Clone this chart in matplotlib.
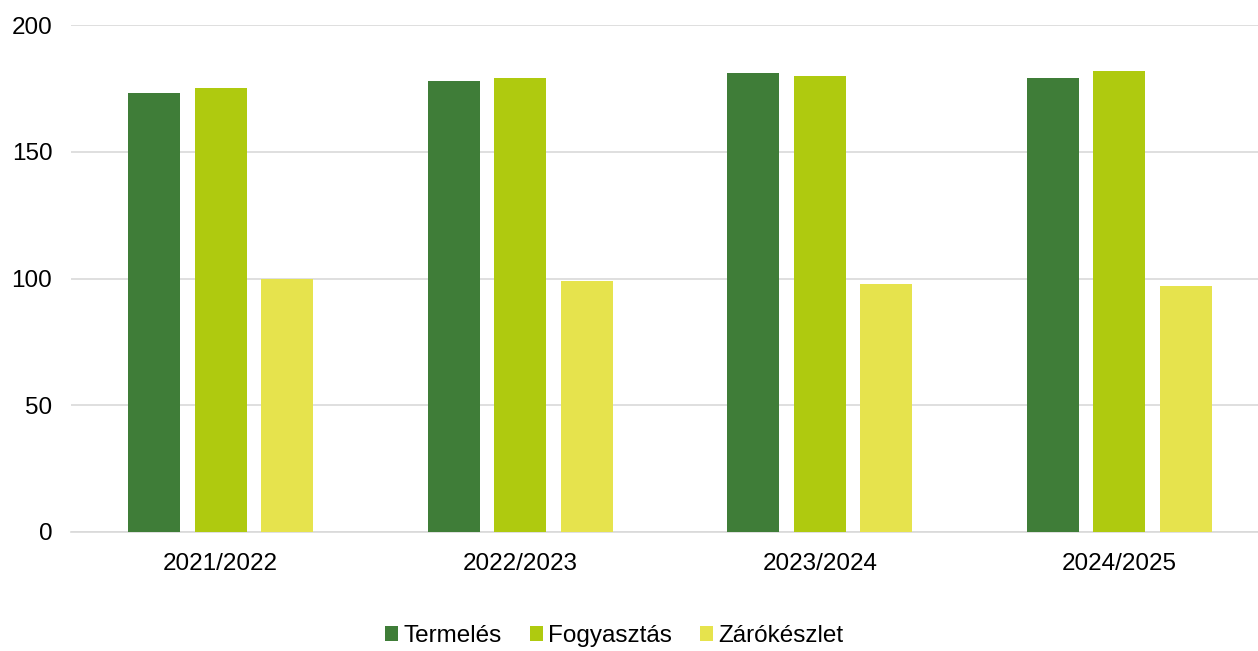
import numpy as np
import matplotlib.pyplot as plt

plt.rcParams['font.family'] = ['Liberation Sans', 'DejaVu Sans']

evek = ['2021/2022', '2022/2023', '2023/2024', '2024/2025']
termeles = [173, 178, 181, 179]
fogyasztas = [175, 179, 180, 182]
zarokeszlet = [100, 99, 98, 97]

fig = plt.figure(figsize=(12.58, 6.51), dpi=100)
ax = fig.add_axes([71 / 1258, 1 - 532 / 651, 1198 / 1258, 507 / 651])

x = np.arange(len(evek))
w = 0.174
d = 0.222
ax.bar(x - d, termeles, w, color='#3F7D38', label='Termelés', zorder=3)
ax.bar(x, fogyasztas, w, color='#AFCA0F', label='Fogyasztás', zorder=3)
ax.bar(x + d, zarokeszlet, w, color='#E6E34D', label='Zárókészlet', zorder=3)

ax.set_xlim(-0.5, len(evek) - 0.5)
ax.set_ylim(0, 200)
ax.set_yticks([0, 50, 100, 150, 200])
ax.set_xticks(x)
ax.set_xticklabels(evek)
ax.yaxis.grid(True, color='#d9d9d9', linewidth=1.2, zorder=0)
for s in ['top', 'right', 'left']:
    ax.spines[s].set_visible(False)
ax.spines['bottom'].set_color('#d9d9d9')
ax.spines['bottom'].set_linewidth(1.2)
ax.tick_params(axis='both', length=0, labelsize=17.5, colors='black')
ax.tick_params(axis='y', pad=13.5)
ax.tick_params(axis='x', pad=15)

fig.legend(loc='center', bbox_to_anchor=(614 / 1258, 1 - 636 / 651), ncol=3, frameon=False,
           fontsize=17.5, handlelength=0.55, handleheight=0.55, handletextpad=0.2,
           columnspacing=1.15)

fig.savefig('out.png', dpi=100)
